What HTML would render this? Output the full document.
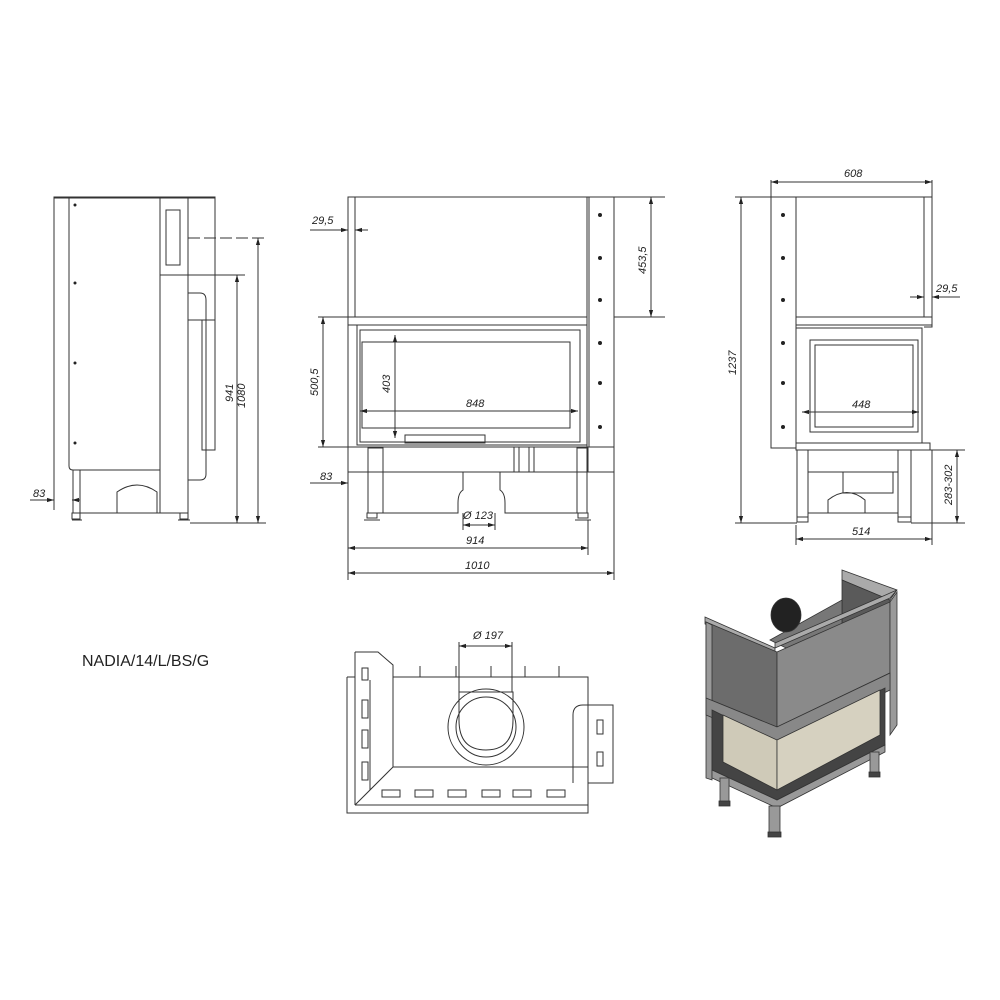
<!DOCTYPE html>
<html><head><meta charset="utf-8"><style>
html,body{margin:0;padding:0;background:#fff}
svg{display:block}
text{font-family:"Liberation Sans",sans-serif;font-style:italic;font-size:11px;fill:#222}
</style></head><body>
<svg width="1000" height="1000" viewBox="0 0 1000 1000" xmlns="http://www.w3.org/2000/svg">
<defs>
<marker id="a" viewBox="0 0 10 10" refX="10" refY="5" markerWidth="7" markerHeight="7" orient="auto-start-reverse"><path d="M0,2 L10,5 L0,8z" fill="#222"/></marker>
</defs>
<g fill="none" stroke="#333" stroke-width="1">
<!-- ===== LEFT SIDE VIEW ===== -->
<rect x="54" y="197" width="161" height="1" />
<line x1="54" y1="197" x2="54" y2="447"/>
<line x1="69" y1="197" x2="69" y2="447"/>
<path d="M69,197 L69,466 Q69,470 73,470 L160,470 L160,197"/>
<rect x="160" y="197" width="28" height="316"/>
<rect x="188" y="197" width="27" height="123"/>
<line x1="160" y1="275" x2="188" y2="275"/>
<rect x="166" y="210" width="14" height="55"/>
<path d="M188,293 L200,293 Q206,293 206,300 L206,474 Q206,480 200,480 L188,480"/>
<rect x="202" y="320" width="13" height="130"/>
<line x1="73" y1="470" x2="73" y2="513"/><line x1="80" y1="470" x2="80" y2="513"/>
<line x1="80" y1="513" x2="188" y2="513"/>
<path d="M117,513 L117,492 Q137,478 157,492 L157,513"/>
<rect x="72" y="513" width="8" height="6"/><rect x="180" y="513" width="8" height="6"/>
<line x1="72" y1="520" x2="82" y2="520"/><line x1="178" y1="520" x2="190" y2="520"/>
<!-- dims left -->
<line x1="188" y1="238" x2="266" y2="238" stroke-dasharray="12,4"/>
<line x1="188" y1="275" x2="245" y2="275"/>
<line x1="190" y1="523" x2="266" y2="523"/>
<line x1="258" y1="238" x2="258" y2="523" marker-start="url(#a)" marker-end="url(#a)"/>
<line x1="237" y1="275" x2="237" y2="523" marker-start="url(#a)" marker-end="url(#a)"/>
<line x1="54" y1="447" x2="54" y2="510"/>
<line x1="30" y1="500" x2="54" y2="500" marker-end="url(#a)"/>
<line x1="80" y1="500" x2="72" y2="500" marker-end="url(#a)"/>
<!-- ===== FRONT VIEW ===== -->
<rect x="348" y="197" width="266" height="250"/>
<line x1="355" y1="197" x2="355" y2="317"/>
<line x1="587" y1="197" x2="587" y2="447"/>
<line x1="589" y1="197" x2="589" y2="447"/>
<rect x="348" y="317" width="239" height="8"/>
<rect x="357" y="325" width="230" height="120"/>
<rect x="360" y="330" width="220" height="112"/>
<rect x="362" y="342" width="208" height="86"/>
<rect x="405" y="435" width="80" height="8"/>
<rect x="348" y="447" width="266" height="25"/>
<line x1="588" y1="447" x2="588" y2="472"/>
<rect x="368" y="448" width="15" height="65"/><rect x="577" y="448" width="10" height="65"/>
<line x1="383" y1="472" x2="577" y2="472"/>
<path d="M383,513 L458,513 L458,503 Q458,493 463,490 L463,472 M500,472 L500,490 Q505,493 505,503 L505,513 L577,513"/>
<rect x="514" y="447" width="5" height="25"/><rect x="529" y="447" width="5" height="25"/>
<rect x="367" y="513" width="10" height="5"/><rect x="578" y="513" width="10" height="5"/>
<line x1="364" y1="520" x2="380" y2="520"/><line x1="575" y1="520" x2="591" y2="520"/>
<!-- dims front -->
<line x1="614" y1="197" x2="665" y2="197"/><line x1="614" y1="317" x2="665" y2="317"/>
<line x1="651" y1="197" x2="651" y2="317" marker-start="url(#a)" marker-end="url(#a)"/>
<line x1="318" y1="317" x2="348" y2="317"/><line x1="318" y1="447" x2="348" y2="447"/>
<line x1="323" y1="317" x2="323" y2="447" marker-start="url(#a)" marker-end="url(#a)"/>
<line x1="395" y1="335" x2="395" y2="438" marker-start="url(#a)" marker-end="url(#a)"/>
<line x1="360" y1="411" x2="578" y2="411" marker-start="url(#a)" marker-end="url(#a)"/>
<line x1="310" y1="230" x2="348" y2="230" marker-end="url(#a)"/><line x1="368" y1="230" x2="355" y2="230" marker-end="url(#a)"/>
<line x1="310" y1="483" x2="348" y2="483" marker-end="url(#a)"/><line x1="368" y1="483" x2="368" y2="483"/>
<line x1="348" y1="447" x2="348" y2="580"/><line x1="614" y1="447" x2="614" y2="580"/><line x1="588" y1="520" x2="588" y2="555"/>
<line x1="348" y1="548" x2="588" y2="548" marker-start="url(#a)" marker-end="url(#a)"/>
<line x1="348" y1="573" x2="614" y2="573" marker-start="url(#a)" marker-end="url(#a)"/>
<line x1="463" y1="513" x2="463" y2="530"/><line x1="495" y1="513" x2="495" y2="530"/>
<line x1="463" y1="525" x2="495" y2="525" marker-start="url(#a)" marker-end="url(#a)"/>
<!-- ===== RIGHT VIEW ===== -->
<rect x="771" y="197" width="25" height="251"/>
<line x1="796" y1="197" x2="932" y2="197"/>
<line x1="924" y1="197" x2="924" y2="317"/><path d="M924,197 L932,197 L932,327 L924,327"/>
<rect x="796" y="317" width="136" height="8"/>
<rect x="796" y="328" width="126" height="115"/>
<rect x="810" y="340" width="108" height="92"/>
<rect x="815" y="345" width="98" height="82"/>
<rect x="796" y="443" width="134" height="7"/>
<rect x="797" y="450" width="11" height="67"/><rect x="898" y="450" width="13" height="67"/>
<path d="M808,472 L898,472 M808,472 L808,450 M843,472 L843,493 L893,493 L893,472"/>
<path d="M828,513 L828,500 Q847,485 865,500 L865,513 M808,513 L898,513"/>
<rect x="797" y="517" width="11" height="5"/><rect x="898" y="517" width="13" height="5"/>
<line x1="771" y1="180" x2="771" y2="197"/><line x1="932" y1="180" x2="932" y2="197"/>
<line x1="771" y1="182" x2="932" y2="182" marker-start="url(#a)" marker-end="url(#a)"/>
<line x1="735" y1="197" x2="771" y2="197"/><line x1="735" y1="523" x2="797" y2="523"/>
<line x1="741" y1="197" x2="741" y2="523" marker-start="url(#a)" marker-end="url(#a)"/>
<line x1="930" y1="450" x2="965" y2="450"/><line x1="911" y1="523" x2="965" y2="523"/>
<line x1="957" y1="450" x2="957" y2="523" marker-start="url(#a)" marker-end="url(#a)"/>
<line x1="796" y1="525" x2="796" y2="545"/><line x1="932" y1="450" x2="932" y2="545"/>
<line x1="796" y1="539" x2="932" y2="539" marker-start="url(#a)" marker-end="url(#a)"/>
<line x1="802" y1="412" x2="919" y2="412" marker-start="url(#a)" marker-end="url(#a)"/>
<line x1="910" y1="297" x2="924" y2="297" marker-end="url(#a)"/><line x1="960" y1="297" x2="932" y2="297" marker-end="url(#a)"/>
<!-- ===== BOTTOM VIEW ===== -->
<rect x="393" y="677" width="195" height="90"/>
<path d="M355,652 L378,652 L393,665 L393,677 M347,677 L355,677 L355,652 M347,677 L347,813 L588,813 L588,805"/>
<line x1="355" y1="677" x2="355" y2="805"/><line x1="355" y1="805" x2="588" y2="805"/>
<line x1="355" y1="805" x2="393" y2="767"/>
<line x1="370" y1="680" x2="370" y2="790"/>
<path d="M573,783 L573,715 Q573,705 583,705 L613,705 L613,783 L588,783 L588,805"/>
<line x1="588" y1="705" x2="588" y2="783"/>
<circle cx="486" cy="727" r="38"/>
<circle cx="486" cy="727" r="30"/>
<path d="M459,692 L459,720 Q459,750 486,750 Q513,750 513,720 L513,692 Z"/>
<line x1="459" y1="642" x2="459" y2="692"/><line x1="512" y1="642" x2="512" y2="692"/>
<line x1="459" y1="646" x2="512" y2="646" marker-start="url(#a)" marker-end="url(#a)"/>
<line x1="420" y1="666" x2="420" y2="677"/><line x1="456" y1="666" x2="456" y2="677"/><line x1="491" y1="666" x2="491" y2="677"/><line x1="525" y1="666" x2="525" y2="677"/><line x1="559" y1="666" x2="559" y2="677"/>
<rect x="382" y="790" width="18" height="7"/><rect x="415" y="790" width="18" height="7"/><rect x="448" y="790" width="18" height="7"/><rect x="482" y="790" width="18" height="7"/><rect x="513" y="790" width="18" height="7"/><rect x="547" y="790" width="18" height="7"/>
<rect x="362" y="700" width="6" height="18"/><rect x="362" y="730" width="6" height="18"/><rect x="362" y="762" width="6" height="18"/><rect x="362" y="668" width="6" height="12"/>
<rect x="597" y="720" width="6" height="14"/><rect x="597" y="752" width="6" height="14"/>
</g>
<!-- dots -->
<g fill="#222">
<circle cx="600" cy="215" r="2"/><circle cx="600" cy="258" r="2"/><circle cx="600" cy="300" r="2"/><circle cx="600" cy="343" r="2"/><circle cx="600" cy="383" r="2"/><circle cx="600" cy="427" r="2"/>
<circle cx="783" cy="215" r="2"/><circle cx="783" cy="258" r="2"/><circle cx="783" cy="300" r="2"/><circle cx="783" cy="343" r="2"/><circle cx="783" cy="383" r="2"/><circle cx="783" cy="427" r="2"/>
<circle cx="75" cy="205" r="1.5"/><circle cx="75" cy="283" r="1.5"/><circle cx="75" cy="363" r="1.5"/><circle cx="75" cy="443" r="1.5"/>
</g>
<!-- texts -->
<text x="245" y="408" transform="rotate(-90 245 408)">1080</text>
<text x="233" y="402" transform="rotate(-90 233 402)">941</text>
<text x="33" y="497">83</text>
<text x="312" y="224">29,5</text>
<text x="318" y="396" transform="rotate(-90 318 396)">500,5</text>
<text x="390" y="393" transform="rotate(-90 390 393)">403</text>
<text x="466" y="407">848</text>
<text x="320" y="480">83</text>
<text x="463" y="519">Ø 123</text>
<text x="466" y="544">914</text>
<text x="465" y="569">1010</text>
<text x="646" y="274" transform="rotate(-90 646 274)">453,5</text>
<text x="844" y="177">608</text>
<text x="736" y="375" transform="rotate(-90 736 375)">1237</text>
<text x="936" y="292">29,5</text>
<text x="852" y="408">448</text>
<text x="952" y="505" transform="rotate(-90 952 505)">283-302</text>
<text x="852" y="535">514</text>
<text x="473" y="639">Ø 197</text>
<text x="82" y="666" style="font-style:normal;font-size:16px">NADIA/14/L/BS/G</text>
<!-- ===== 3D RENDER ===== -->
<g stroke="#333" stroke-width="0.8">
<polygon points="705,617 775,648 775,655 705,624" fill="#aaa"/>
<polygon points="842,570 897,590 890,600 842,580" fill="#aaa"/>
<polygon points="842,580 890,600 890,650 842,640" fill="#5a5a5a"/>
<polygon points="770,640 842,600 842,630 790,650" fill="#777"/>
<ellipse cx="786" cy="615" rx="15" ry="17" fill="#222"/>
<polygon points="775,648 890,598 897,590 775,643" fill="#aaa"/>
<polygon points="706,622 777,652 777,727 706,698" fill="#6c6c6c"/>
<polygon points="777,652 890,602 890,673 777,727" fill="#8a8a8a"/>
<polygon points="890,602 897,592 897,725 890,735" fill="#9a9a9a"/>
<polygon points="706,622 712,625 712,780 706,778" fill="#9a9a9a"/>
<polygon points="706,698 777,727 890,673 890,690 777,745 706,715" fill="#888"/>
<polygon points="712,710 777,742 885,688 885,745 777,800 712,770" fill="#444"/>
<polygon points="723,715 777,740 777,790 723,762" fill="#cfcab8"/>
<polygon points="777,740 880,690 880,735 777,790" fill="#d6d1c0"/>
<polygon points="712,770 777,800 885,745 885,752 777,808 712,778" fill="#999"/>
<rect x="720" y="778" width="9" height="25" fill="#999"/>
<rect x="769" y="806" width="11" height="28" fill="#999"/>
<rect x="870" y="752" width="9" height="22" fill="#999"/>
<rect x="719" y="801" width="11" height="5" fill="#444"/><rect x="768" y="832" width="13" height="5" fill="#444"/><rect x="869" y="772" width="11" height="5" fill="#444"/>
</g>
</svg>
</body></html>
